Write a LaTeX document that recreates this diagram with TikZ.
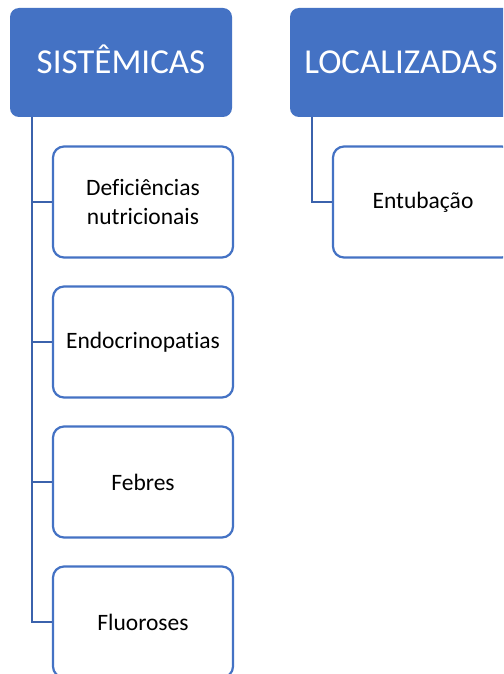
\documentclass[tikz,border=0pt]{standalone}
\usepackage{fontspec}
\setmainfont{Carlito}[Ligatures=NoCommon]
\definecolor{hdr}{HTML}{4472C4}
\definecolor{conncol}{HTML}{3B62AC}
\begin{document}
\begin{tikzpicture}[x=1pt,y=-1pt,
  header/.style={fill=hdr, draw=none, rounded corners=9pt, minimum width=222pt, minimum height=109pt, text=white, font=\fontsize{35}{42}\selectfont, inner sep=0pt, text height=22.5pt, text depth=0pt},
  itembox/.style={fill=white, draw=hdr, line width=2.2pt, rounded corners=11pt, minimum width=180pt, minimum height=111pt, font=\fontsize{23.5}{29}\selectfont, align=center, inner sep=0pt},
  conn/.style={draw=conncol, line width=2.6pt}]
\clip (0,0) rectangle (503,674);
\fill[white] (0,0) rectangle (503,674);
\node[header] (sis) at (121,62.5) {SISTÊMICAS};
\node[header] (loc) at (401,62.5) {LOCALIZADAS};
\node[itembox] (def) at (143,202) {Deficiências\\nutricionais};
\node[itembox] (endo) at (143,342) {Endocrinopatias};
\node[itembox] (feb) at (143,482) {Febres};
\node[itembox] (fluo) at (143,622) {Fluoroses};
\node[itembox] (ent) at (423,202) {Entubação};
\coordinate (strunk) at (32,117);
\coordinate (ltrunk) at (312,117);
\draw[conn] (strunk) |- (fluo.west);
\draw[conn] (strunk |- def.west) -- (def.west);
\draw[conn] (strunk |- endo.west) -- (endo.west);
\draw[conn] (strunk |- feb.west) -- (feb.west);
\draw[conn] (ltrunk) |- (ent.west);
\end{tikzpicture}
\end{document}
